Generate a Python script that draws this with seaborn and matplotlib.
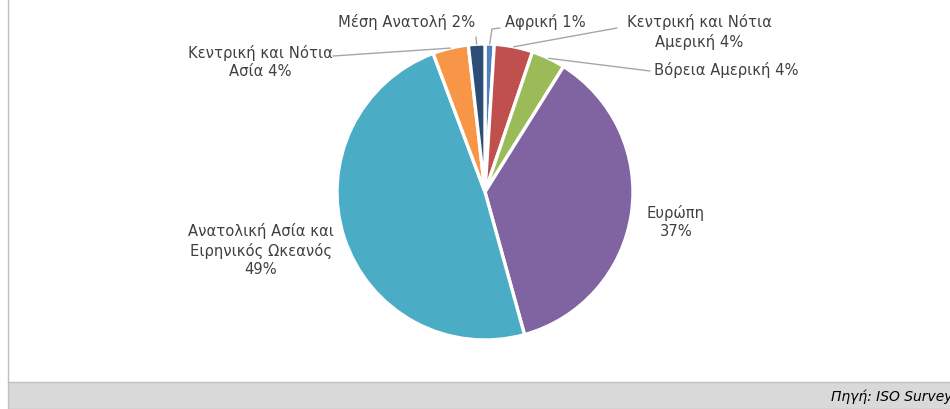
import numpy as np
import matplotlib
matplotlib.use("Agg")
import matplotlib.pyplot as plt
import seaborn as sns
from matplotlib.lines import Line2D
from matplotlib.patches import Rectangle

sns.set_style("white")
plt.rcParams['font.family'] = ['DejaVu Sans']

# Regions in drawing order (clockwise from the top)
regions = ['Αφρική', 'Κεντρική και Νότια\nΑμερική', 'Βόρεια Αμερική', 'Ευρώπη\n',
           'Ανατολική Ασία και\nΕιρηνικός Ωκεανός\n', 'Κεντρική και Νότια\nΑσία', 'Μέση Ανατολή']
shares = [1.0, 4.2, 3.7, 36.8, 48.6, 3.9, 1.8]
colors = ['#4F81BD', '#C0504D', '#9BBB59', '#8064A2', '#4BACC6', '#F79646', '#2C4D75']
source = 'Πηγή: ISO Survey'

W, H = 950, 410
fig = plt.figure(figsize=(W / 100, H / 100), dpi=100)

# frame: left border and grey footer band
fig.add_artist(Line2D([8 / W, 8 / W], [27 / H, 1], color='#BFBFBF', lw=1))
fig.add_artist(Rectangle((8 / W, 0), 1, 27 / H, facecolor='#D9D9D9',
                         edgecolor='#BFBFBF', lw=1))
fig.text(953 / W, 13 / H, source, ha='right', va='center', fontsize=10,
         style='italic', color='#000000')

cx, cy, r = 485, 410 - 193, 148
ax = fig.add_axes([(cx - r) / W, (cy - r) / H, 2 * r / W, 2 * r / H])
wedges, _ = ax.pie(shares, colors=colors, startangle=90, counterclock=False,
                   wedgeprops=dict(edgecolor='white', linewidth=2.4))
ax.set_xlim(-1, 1)
ax.set_ylim(-1, 1)

# label layout: text position (px from left, px from bottom), alignment, leader end
layout = [
    dict(xy=(505, 388), ha='left', line=[(492, 380), (500, 381)]),
    dict(xy=(699, 378), ha='center', line=[(617, 381)]),
    dict(xy=(654, 340), ha='left', line=[(650, 338)]),
    dict(xy=(676, 188), ha='center', line=None),
    dict(xy=(261, 160), ha='center', line=None),
    dict(xy=(260, 348), ha='center', line=[(333, 353)]),
    dict(xy=(475, 388), ha='right', line=[(476, 372)]),
]

text_color = '#404040'
for w, name, val, lay in zip(wedges, regions, shares, layout):
    sep = '' if name.endswith('\n') else ' '
    label = f'{name}{sep}{val:.0f}%'
    fig.text(lay['xy'][0] / W, lay['xy'][1] / H, label, ha=lay['ha'], va='center',
             multialignment='center', fontsize=10.6, color=text_color, linespacing=1.3)
    if lay['line'] is not None:
        mid = np.deg2rad((w.theta1 + w.theta2) / 2)
        px, py = ax.transData.transform((np.cos(mid) * 1.0, np.sin(mid) * 1.0))
        xs = [px / W] + [p[0] / W for p in lay['line']]
        ys = [py / H] + [p[1] / H for p in lay['line']]
        fig.add_artist(Line2D(xs, ys, color='#A6A6A6', lw=1))

fig.savefig('out.png', dpi=100)
